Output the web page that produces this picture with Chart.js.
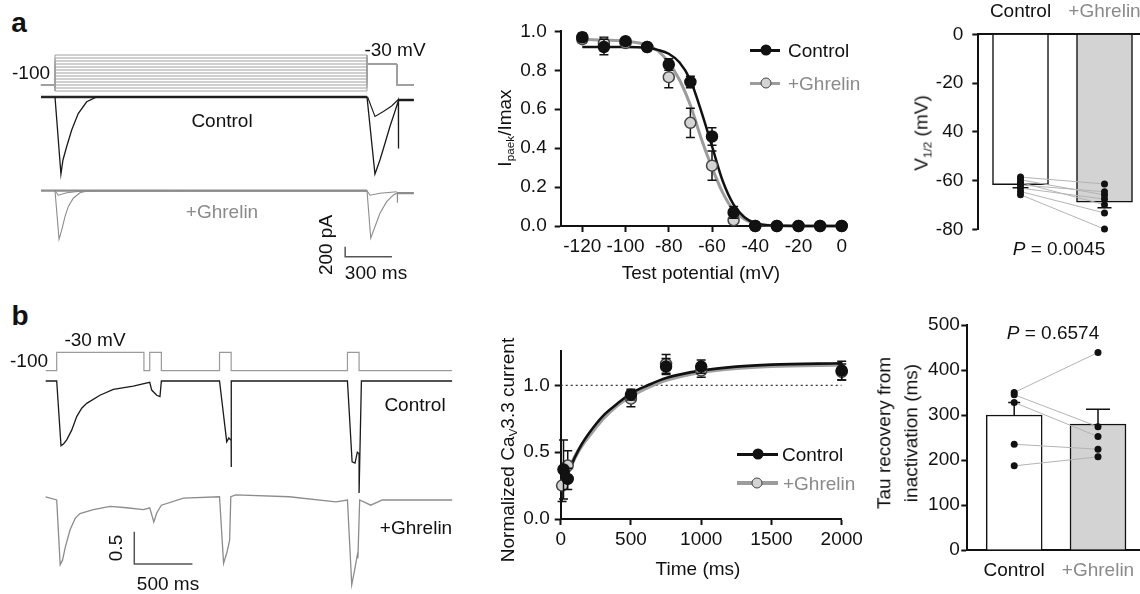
<!DOCTYPE html>
<html>
<head>
<meta charset="utf-8">
<title>CaV3.3 inactivation and recovery: control vs ghrelin</title>
<script src="https://cdn.jsdelivr.net/npm/chart.js@4.4.1/dist/chart.umd.min.js"></script>
<style>
  html, body { margin: 0; padding: 0; background: #fff; }
  body { position: relative; width: 1140px; height: 594px; overflow: hidden;
         font-family: 'Liberation Sans', Arial, Helvetica, sans-serif; color: #111; }
  canvas { position: absolute; }
  .t { position: absolute; font-size: 19px; line-height: 1; white-space: nowrap;
       transform: translate(-50%, -50%); }
  .t.l { transform: translate(0, -50%); }
  .t.rot { transform: translate(-50%, -50%) rotate(-90deg); }
  .g { color: #8a8a8a; }
  .pl { font-weight: bold; font-size: 28px; }
  sub { font-size: 0.62em; line-height: 0; vertical-align: -0.3em; }
  .ln { position: absolute; height: 3px; }
  .mk { position: absolute; width: 11px; height: 11px; border-radius: 50%; box-sizing: border-box;
        transform: translate(-50%, -50%); }
</style>
</head>
<body>
<canvas id="aTrace"></canvas>
<canvas id="aCurve"></canvas>
<canvas id="aBars"></canvas>
<canvas id="bTrace"></canvas>
<canvas id="bCurve"></canvas>
<canvas id="bBars"></canvas>

<div class="t pl" style="left:19px;top:23px">a</div>
<div class="t pl" style="left:20px;top:316px">b</div>

<!-- a: protocol and currents -->
<div class="t" style="left:31px;top:72px">-100</div>
<div class="t" style="left:395px;top:49px">-30 mV</div>
<div class="t" style="left:222px;top:120px">Control</div>
<div class="t g" style="left:222px;top:211px">+Ghrelin</div>
<div class="t rot" style="left:325px;top:245px">200 pA</div>
<div class="t" style="left:376px;top:272px">300 ms</div>

<!-- a: inactivation curve -->
<div class="t rot" style="left:504px;top:128px">I<sub>paek</sub>/Imax</div>
<div class="t" style="left:701px;top:272px">Test potential (mV)</div>
<div class="ln" style="left:750px;top:48.5px;width:30px;background:#111"></div>
<div class="mk" style="left:766px;top:50px;background:#111"></div>
<div class="t l" style="left:788px;top:50px">Control</div>
<div class="ln" style="left:750px;top:81.5px;width:30px;height:3.5px;background:#9c9c9c"></div>
<div class="mk" style="left:766px;top:83px;background:#d4d4d4;border:1.5px solid #444"></div>
<div class="t l g" style="left:788px;top:83px">+Ghrelin</div>

<!-- a: V1/2 -->
<div class="t rot" style="left:921px;top:133px">V<sub>1/2</sub> (mV)</div>
<div class="t" style="left:1059px;top:248px"><i>P</i> = 0.0045</div>

<!-- b: protocol and currents -->
<div class="t" style="left:95px;top:339px">-30 mV</div>
<div class="t" style="left:29px;top:360px">-100</div>
<div class="t" style="left:415px;top:404px">Control</div>
<div class="t" style="left:416px;top:527px">+Ghrelin</div>
<div class="t rot" style="left:115px;top:548px">0.5</div>
<div class="t" style="left:168px;top:583px">500 ms</div>

<!-- b: recovery curve -->
<div class="t rot" style="left:507px;top:450px">Normalized Ca<sub>V</sub>3.3 current</div>
<div class="t" style="left:698px;top:568px">Time (ms)</div>
<div class="ln" style="left:737px;top:452.5px;width:41px;background:#111"></div>
<div class="mk" style="left:758px;top:454px;background:#111"></div>
<div class="t l" style="left:782px;top:454px">Control</div>
<div class="ln" style="left:737px;top:481px;width:41px;height:3.5px;background:#9c9c9c"></div>
<div class="mk" style="left:757px;top:483px;background:#d4d4d4;border:1.5px solid #444"></div>
<div class="t l g" style="left:783px;top:483px">+Ghrelin</div>

<!-- b: tau -->
<div class="t rot" style="left:898px;top:433px;text-align:center;line-height:26.7px">Tau recovery from<br>inactivation (ms)</div>
<div class="t" style="left:1053px;top:332px"><i>P</i> = 0.6574</div>

<script>
// ---------- a, left: inactivation protocol (mV) and currents (pA) vs time (ms)
const A_PRE_LEVELS = [-120, -110, -100, -90, -80, -70, -60, -50, -40, -30, -20, -10, 0];
const A_HOLD = -100;
const A_TEST = -30;
const A_PROTO_T = [-90, 0, 0, 2000, 2000, 2190, 2190, 2300];

const A_CTRL_T = [0, 38, 51, 75, 107, 149, 203, 267, 2000, 2004, 2051, 2083, 2115, 2147, 2179, 2201, 2201, 2203, 2300];
const A_CTRL_I = [0, -1540, -1260, -990, -660, -330, -95, 0, 0, 0, -1540, -1260, -930, -590, -290, -75, -1030, -60, -60];
const A_CTRL2_T = [2004, 2051, 2105, 2158, 2201];
const A_CTRL2_I = [0, -390, -290, -180, -50];
const A_CTRL_BASE_T = [-90, 2000, 2100, 2201, 2300];
const A_CTRL_BASE_I = [0, 0, null, -60, -60];

const A_GHR_T = [0, 26, 43, 64, 85, 117, 160, 212, 2000, 2024, 2051, 2083, 2126, 2168, 2194, 2194, 2196, 2300];
const A_GHR_I = [0, -970, -790, -520, -320, -150, -40, 0, 0, -950, -720, -450, -220, -90, -40, -240, -50, -50];
const A_GHR2_T = [0, 21, 75, 160, 2000, 2019, 2083, 2190];
const A_GHR2_I = [0, -90, -40, -10, 0, -90, -50, -20];
const A_GHR_BASE_T = [-90, 2000, 2100, 2196, 2300];
const A_GHR_BASE_I = [0, 0, null, -50, -50];

const A_BAR_MS = 300;
const A_BAR_PA = 200;

// ---------- a, middle: steady-state inactivation
const A_V = [-120, -110, -100, -90, -80, -70, -60, -50, -40, -30, -20, -10, 0];
const A_CTRL_M = [0.97, 0.92, 0.95, 0.92, 0.83, 0.74, 0.46, 0.07, 0, 0, 0, 0, 0];
const A_CTRL_E = [0.02, 0.04, 0.01, 0.015, 0.03, 0.03, 0.045, 0.03, 0, 0, 0, 0, 0];
const A_GHR_M = [0.96, 0.94, 0.94, 0.92, 0.765, 0.53, 0.31, 0.03, 0, 0, 0, 0, 0];
const A_GHR_E = [0.02, 0.03, 0.01, 0.01, 0.055, 0.075, 0.075, 0.01, 0, 0, 0, 0, 0];
const A_FIT_V = [-120, -110, -100, -90, -85, -80, -75, -70, -65, -60, -55, -50, -45, -40, -30, -20, -10, 0];
const A_FIT_CTRL = [0.92, 0.92, 0.92, 0.915, 0.905, 0.885, 0.84, 0.75, 0.59, 0.41, 0.23, 0.11, 0.045, 0.015, 0.002, 0, 0, 0];
const A_FIT_GHR = [0.96, 0.955, 0.95, 0.93, 0.9, 0.84, 0.75, 0.62, 0.45, 0.3, 0.17, 0.08, 0.035, 0.012, 0.002, 0, 0, 0];
const A_XTICKS = [-120, -100, -80, -60, -40, -20, 0];
const A_YTICKS = [0, 0.2, 0.4, 0.6, 0.8, 1.0];

// ---------- a, right: V1/2
const GROUPS = ['Control', '+Ghrelin'];
const AR_MEAN = [-61.6, -68.8];
const AR_SEM = [1.3, 2.3];
const AR_CTRL_PTS = [-58.5, -59.6, -60.7, -61.7, -63.0, -64.4, -65.7];
const AR_GHR_PTS = [-61.3, -65.8, -69.8, -64.5, -67.5, -73.2, -79.8];
const AR_YTICKS = [0, -20, -40, -60, -80];
const AR_YLABELS = ['0', '-20', '40', '-60', '-80'];

// ---------- b, left: recovery protocol (mV) and normalized currents vs time (ms)
const B_PROTO_T = [-95, 0, 0, 750, 750, 800, 800, 900, 900, 1400, 1400, 1500, 1500, 2500, 2500, 2600, 2600, 3400];
const B_PROTO_V = [-100, -100, -30, -30, -100, -100, -30, -30, -100, -100, -30, -30, -100, -100, -30, -30, -100, -100];
const B_CTRL_TT = [-95, 0, 37, 60, 86, 129, 172, 215, 258, 372, 487, 659, 750, 800, 817, 860, 888, 900, 1400, 1462, 1480, 1495, 1500, 1500, 1502, 2500, 2540, 2565, 2585, 2598, 2600, 2600, 2620, 3400];
const B_CTRL_TV = [0, 0, -1.0, -0.97, -0.91, -0.76, -0.55, -0.42, -0.345, -0.22, -0.13, -0.08, -0.04, -0.02, -0.14, -0.22, -0.24, 0, 0, -0.94, -0.88, -0.91, -0.91, -1.33, 0, 0, -1.25, -1.27, -1.1, -1.12, -1.12, -1.73, 0, 0];
const B_GHR_TT = [-95, 0, 30, 50, 75, 115, 160, 200, 315, 460, 600, 745, 800, 835, 860, 900, 1090, 1400, 1435, 1465, 1487, 1497, 1540, 2000, 2400, 2500, 2537, 2562, 2585, 2590, 2605, 2700, 2800, 3400];
const B_GHR_TV = [0.05, 0, -1.0, -0.93, -0.72, -0.46, -0.28, -0.21, -0.15, -0.10, -0.12, -0.15, -0.12, -0.34, -0.2, -0.08, 0.03, 0.05, -0.98, -0.8, -0.62, 0.05, 0.08, 0.05, -0.03, 0, -1.31, -1.08, -0.85, -0.9, 0, -0.08, 0, 0];
const B_BAR_MS = 500;
const B_BAR_NORM = 0.5;

// ---------- b, middle: recovery from inactivation
const B_CTRL_T = [20, 50, 500, 750, 1000, 2000];
const B_CTRL_V = [0.37, 0.30, 0.93, 1.14, 1.14, 1.11];
const B_CTRL_E = [0.22, 0.08, 0.04, 0.06, 0.05, 0.07];
const B_GHR_T = [10, 50, 500, 750, 1000, 2000];
const B_GHR_V = [0.25, 0.40, 0.90, 1.16, 1.11, 1.10];
const B_GHR_E = [0.12, 0.11, 0.06, 0.07, 0.05, 0.06];
const B_FIT_T = [30, 60, 100, 150, 200, 300, 400, 500, 620, 750, 1000, 1250, 1500, 2000];
const B_FIT_CTRL = [0.29, 0.36, 0.46, 0.56, 0.64, 0.77, 0.86, 0.94, 1.0, 1.055, 1.11, 1.14, 1.155, 1.165];
const B_FIT_GHR = [0.31, 0.37, 0.46, 0.55, 0.62, 0.75, 0.85, 0.92, 0.985, 1.04, 1.10, 1.13, 1.145, 1.155];
const B_REF_T = [0, 2000];
const B_REF_V = [1, 1];
const B_XTICKS = [0, 500, 1000, 1500, 2000];
const B_YTICKS = [0, 0.5, 1.0];

// ---------- b, right: tau of recovery
const BR_MEAN = [300, 280];
const BR_SEM = [28, 33];
const BR_CTRL_PTS = [350, 345, 328, 235, 187];
const BR_GHR_PTS = [439, 274, 252, 224, 207];
const BR_YTICKS = [0, 100, 200, 300, 400, 500];

// ---------------------------------------------------------------
const INK = '#111';
const GREY_TXT = '#8a8a8a';
const CTRL_TRACE = '#1a1a1a';
const GHR_TRACE = '#8c8c8c';

Chart.defaults.font.family = "'Liberation Sans', Arial, Helvetica, sans-serif";
Chart.defaults.font.size = 19;
Chart.defaults.color = INK;

const xy = (xs, ys) => xs.map((x, i) => ({ x, y: ys[i] }));

// value range of an axis whose pixels run from a to b, given two values and where they sit
function fitRange(v0, p0, v1, p1, a, b) {
  const k = (v1 - v0) / (p1 - p0);
  const va = v0 + (a - p0) * k, vb = v0 + (b - p0) * k;
  return [Math.min(va, vb), Math.max(va, vb)];
}

// size a canvas to a page box and return the margins round the wanted chart area
function mount(id, area, box) {
  const c = document.getElementById(id);
  const w = box.r - box.l, h = box.b - box.t;
  Object.assign(c.style, { left: box.l + 'px', top: box.t + 'px', width: w + 'px', height: h + 'px' });
  c.width = w; c.height = h;
  return { c, area, box, left: area.l - box.l, top: area.t - box.t, right: box.r - area.r, bottom: box.b - area.b };
}

function numAxis(o) {
  return {
    type: 'linear', min: o.min, max: o.max, position: o.position, z: o.z || 0, offset: false,
    border: { display: true, color: INK, width: 2 },
    grid: { display: o.marks !== false, drawOnChartArea: false, drawTicks: true, tickLength: 6, tickWidth: 2, tickColor: INK, offset: false },
    ticks: { color: o.color || INK, padding: o.pad, autoSkip: false, maxRotation: 0, callback: (v, i) => o.labels[i] },
    afterBuildTicks: s => { s.ticks = o.ticks.map(value => ({ value })); },
    afterFit: s => { if (s.isHorizontal()) s.height = o.size; else s.width = o.size; }
  };
}

function drawErr(chart, index) {
  const ds = chart.data.datasets[index];
  if (!ds.err) return;
  const meta = chart.getDatasetMeta(index);
  const ys = chart.scales[meta.yAxisID];
  const ctx = chart.ctx;
  ctx.save();
  ctx.strokeStyle = INK;
  ctx.lineWidth = 1.5;
  ds.data.forEach((d, k) => {
    const e = ds.err[k];
    if (!e) return;
    const x = meta.data[k].x;
    const ends = ds.type === 'bar' ? [d.y, d.y + Math.sign(d.y) * e] : [d.y - e, d.y + e];
    const y0 = ys.getPixelForValue(ends[0]), y1 = ys.getPixelForValue(ends[1]);
    const cap = (Array.isArray(ds.errCap) ? ds.errCap[k] : ds.errCap) / 2;
    ctx.beginPath();
    ctx.moveTo(x, y0); ctx.lineTo(x, y1);
    ctx.moveTo(x - cap, y1); ctx.lineTo(x + cap, y1);
    if (ds.type !== 'bar') { ctx.moveTo(x - cap, y0); ctx.lineTo(x + cap, y0); }
    ctx.stroke();
  });
  ctx.restore();
}

const errorBars = {
  id: 'errorBars',
  beforeDatasetDraw(chart, args) { if (chart.data.datasets[args.index].type !== 'bar') drawErr(chart, args.index); },
  afterDatasetDraw(chart, args) { if (chart.data.datasets[args.index].type === 'bar') drawErr(chart, args.index); }
};

const trace = (xs, ys, axisId, color, width) => ({
  type: 'line', data: xy(xs, ys), yAxisID: axisId, borderColor: color, borderWidth: width,
  pointRadius: 0, tension: 0, fill: false, spanGaps: false
});
const curve = (xs, ys, color, width) => ({
  type: 'line', data: xy(xs, ys), borderColor: color, borderWidth: width, pointRadius: 0,
  cubicInterpolationMode: 'monotone', fill: false, clip: false
});
const marks = (xs, ys, err, fill, stroke) => ({
  type: 'scatter', data: xy(xs, ys), err, errCap: 9, pointRadius: 5.5,
  pointBackgroundColor: fill, pointBorderColor: stroke, pointBorderWidth: 1.5, clip: false
});

const base = {
  responsive: false, animation: false, devicePixelRatio: 1, events: [],
  plugins: { legend: { display: false }, tooltip: { enabled: false } }
};

function traceChart(m, ranges, datasets) {
  const scales = {};
  for (const [id, r] of Object.entries(ranges)) {
    scales[id] = { type: 'linear', display: false, min: r[0], max: r[1], axis: id === 'x' ? 'x' : 'y' };
  }
  return new Chart(m.c, {
    type: 'line',
    data: { datasets },
    options: { ...base, layout: { padding: 0, autoPadding: false }, scales }
  });
}

// ---------- a, left
{
  const m = mount('aTrace', { l: 0, t: 40, r: 430, b: 290 }, { l: 0, t: 40, r: 430, b: 290 });
  const r = {
    x: fitRange(0, 55, 2000, 367, 0, 430),
    yv: fitRange(A_HOLD, 85, 0, 55, 40, 290),
    yc: fitRange(0, 97, -200, 107, 40, 290),
    yg: fitRange(0, 190.7, -200, 200.7, 40, 290)
  };
  const barT = 1860, barI = -1320;   // corner of the scale bar
  traceChart(m, r, [
    trace(A_CTRL_T, A_CTRL_I, 'yc', CTRL_TRACE, 1.3),
    trace(A_CTRL2_T, A_CTRL2_I, 'yc', CTRL_TRACE, 1.1),
    trace(A_CTRL_BASE_T, A_CTRL_BASE_I, 'yc', '#262626', 2.4),
    trace(A_GHR_T, A_GHR_I, 'yg', GHR_TRACE, 1.1),
    trace(A_GHR2_T, A_GHR2_I, 'yg', GHR_TRACE, 1.1),
    trace(A_GHR_BASE_T, A_GHR_BASE_I, 'yg', GHR_TRACE, 2.2),
    trace([barT, barT, barT + A_BAR_MS], [barI + A_BAR_PA, barI, barI], 'yg', '#555', 1.5),
    ...A_PRE_LEVELS.map(L => trace(A_PROTO_T, [A_HOLD, A_HOLD, L, L, A_TEST, A_TEST, A_HOLD, A_HOLD], 'yv', '#a0a0a0', 1))
  ]);
}

// ---------- a, middle
{
  const m = mount('aCurve', { l: 560.7, t: 30, r: 844.9, b: 226 }, { l: 490, t: 12, r: 870, b: 270 });
  const [xmin, xmax] = fitRange(-120, 582.3, 0, 841.7, m.area.l, m.area.r);
  new Chart(m.c, {
    type: 'scatter',
    data: { datasets: [
      marks(A_V, A_CTRL_M, A_CTRL_E, INK, INK),
      marks(A_V, A_GHR_M, A_GHR_E, '#d4d4d4', '#444'),
      curve(A_FIT_V, A_FIT_CTRL, INK, 2.5),
      curve(A_FIT_V, A_FIT_GHR, '#9c9c9c', 3)
    ] },
    options: { ...base,
      layout: { padding: { left: 0, top: m.top, right: m.right, bottom: 0 }, autoPadding: false },
      scales: {
        x: numAxis({ min: xmin, max: xmax, ticks: A_XTICKS, labels: A_XTICKS.map(String), size: m.bottom, pad: 3 }),
        y: numAxis({ min: 0, max: 1, ticks: A_YTICKS, labels: A_YTICKS.map(v => v.toFixed(1)), size: m.left, pad: 8 })
      }
    },
    plugins: [errorBars]
  });
}

function pairedBars(m, mean, sem, ctrlPts, ghrPts, xr, yAxis, xAxis, caps) {
  const lines = ctrlPts.map((c, i) => ({
    type: 'line', data: [{ x: 1, y: c }, { x: 2, y: ghrPts[i] }], borderColor: '#b4b4b4', borderWidth: 1,
    pointRadius: 0, clip: false
  }));
  const dots = (x, pts) => ({
    type: 'scatter', data: pts.map(y => ({ x, y })), pointRadius: 3.5,
    pointBackgroundColor: INK, pointBorderColor: INK, pointBorderWidth: 0, clip: false
  });
  return new Chart(m.c, {
    type: 'bar',
    data: { datasets: [
      dots(1, ctrlPts), dots(2, ghrPts), ...lines,
      { type: 'bar', data: mean.map((y, i) => ({ x: i + 1, y })), err: sem, errCap: caps,
        backgroundColor: ['#ffffff', '#d3d3d3'], borderColor: INK, borderWidth: 1.5, barThickness: 56 }
    ] },
    options: { ...base,
      layout: { padding: { left: 0, top: xAxis.position === 'top' ? 0 : m.top, right: m.right,
                           bottom: xAxis.position === 'top' ? m.bottom : 0 }, autoPadding: false },
      scales: {
        x: numAxis(Object.assign({ min: xr[0], max: xr[1], ticks: [1, 2], labels: GROUPS, marks: false, z: 1,
                                   color: c => (c.index === 1 ? GREY_TXT : INK) }, xAxis)),
        y: yAxis
      }
    },
    plugins: [errorBars]
  });
}

// ---------- a, right
{
  const m = mount('aBars', { l: 978.3, t: 34.3, r: 1146.5, b: 230 }, { l: 895, t: 0, r: 1150, b: 250 });
  pairedBars(m, AR_MEAN, AR_SEM, AR_CTRL_PTS, AR_GHR_PTS,
    fitRange(1, 1020.5, 2, 1104.5, m.area.l, m.area.r),
    numAxis({ min: -80, max: 0, ticks: AR_YTICKS, labels: AR_YLABELS, size: m.left, pad: 9 }),
    { position: 'top', size: m.top, pad: 5 }, [16, 14]);
}

// ---------- b, left
{
  const m = mount('bTrace', { l: 0, t: 340, r: 460, b: 594 }, { l: 0, t: 340, r: 460, b: 594 });
  const r = {
    x: fitRange(0, 56.7, 500, 114.85, 0, 460),
    yv: fitRange(-100, 370.7, -30, 352.3, 340, 594),
    yc: fitRange(0, 381, -1, 445.7, 340, 594),
    yg: fitRange(0, 500, -1, 564.7, 340, 594)
  };
  const barT = 667, barV = -0.99;   // corner of the scale bar
  traceChart(m, r, [
    trace(B_CTRL_TT, B_CTRL_TV, 'yc', CTRL_TRACE, 1.3),
    trace(B_GHR_TT, B_GHR_TV, 'yg', GHR_TRACE, 1.3),
    trace([barT, barT, barT + B_BAR_MS], [barV + B_BAR_NORM, barV, barV], 'yg', '#555', 1.5),
    trace(B_PROTO_T, B_PROTO_V, 'yv', '#9a9a9a', 1.2)
  ]);
}

// ---------- b, middle
{
  const m = mount('bCurve', { l: 560.7, t: 350.7, r: 841.7, b: 519 }, { l: 480, t: 330, r: 875, b: 565 });
  const [ymin, ymax] = fitRange(0, 519, 1, 385.3, m.area.b, m.area.t);
  new Chart(m.c, {
    type: 'scatter',
    data: { datasets: [
      marks(B_CTRL_T, B_CTRL_V, B_CTRL_E, INK, INK),
      marks(B_GHR_T, B_GHR_V, B_GHR_E, '#d4d4d4', '#444'),
      curve(B_FIT_T, B_FIT_CTRL, INK, 2.6),
      curve(B_FIT_T, B_FIT_GHR, '#a0a0a0', 4),
      { type: 'line', data: xy(B_REF_T, B_REF_V), borderColor: '#333', borderWidth: 1.3, borderDash: [2, 3], pointRadius: 0 }
    ] },
    options: { ...base,
      layout: { padding: { left: 0, top: m.top, right: m.right, bottom: 0 }, autoPadding: false },
      scales: {
        x: numAxis({ min: 0, max: 2000, ticks: B_XTICKS, labels: B_XTICKS.map(String), size: m.bottom, pad: 3.5 }),
        y: numAxis({ min: ymin, max: ymax, ticks: B_YTICKS, labels: B_YTICKS.map(v => v.toFixed(1)), size: m.left, pad: 5 })
      }
    },
    plugins: [errorBars]
  });
}

// ---------- b, right
{
  const m = mount('bBars', { l: 967.3, t: 325, r: 1140, b: 550 }, { l: 900, t: 305, r: 1140, b: 594 });
  pairedBars(m, BR_MEAN, BR_SEM, BR_CTRL_PTS, BR_GHR_PTS,
    fitRange(1, 1014.2, 2, 1098, m.area.l, m.area.r),
    numAxis({ min: 0, max: 500, ticks: BR_YTICKS, labels: BR_YTICKS.map(String), size: m.left, pad: 1.5 }),
    { position: 'bottom', size: m.bottom, pad: 3.5 }, [12, 24]);
}
</script>
</body>
</html>
